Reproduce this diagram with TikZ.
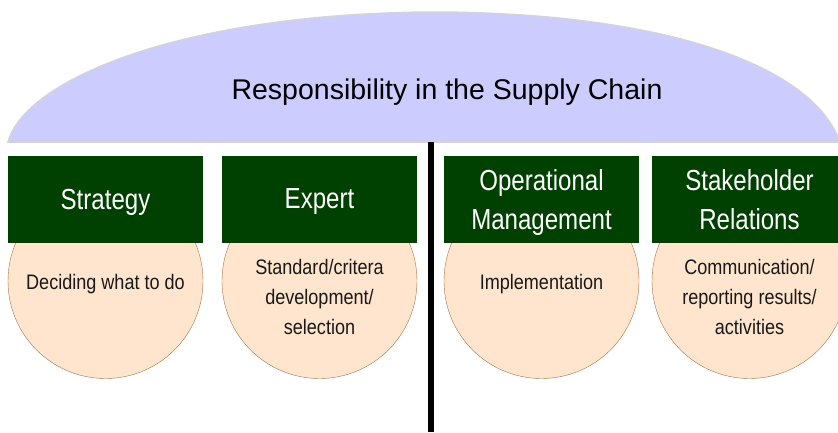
\documentclass[tikz,border=0pt]{standalone}
\usepackage{fontspec}
\setmainfont{Liberation Sans}
\newfontfamily\boxfont[FakeStretch=0.83]{Liberation Sans}
\newfontfamily\discfont[FakeStretch=0.86]{Liberation Sans}
\usetikzlibrary{positioning}
\definecolor{domeblue}{RGB}{204,204,255}
\definecolor{domeline}{RGB}{212,212,212}
\definecolor{boxgreen}{RGB}{0,64,0}
\definecolor{discfill}{RGB}{255,229,206}
\definecolor{discline}{RGB}{165,115,65}
\tikzset{
	%Define style for the green headers
	header/.style={
		rectangle,
		fill=boxgreen,
		text=white,
		minimum width=195pt,
		minimum height=87pt,
		inner sep=0pt, outer sep=0pt,
		text depth=0pt,
		align=center,
		font=\boxfont\fontsize{29}{39}\selectfont},
	%Define style for the circles
	disc/.style={
		circle,
		fill=discfill,
		draw=discline, thin,
		minimum size=195pt,
		inner sep=0pt, outer sep=0pt},
	% Define style for circle texts
	disctext/.style={
		align=center,
		text=black!90,
		font=\discfont\fontsize{21}{30}\selectfont}
}
\begin{document}
\begin{tikzpicture}[x=1pt, y=1pt]
	\useasboundingbox (0,0) rectangle (838,-432);

	\draw[fill=domeblue, draw=domeline, line width=1.5pt] (8,-142) .. controls (25,-80) and (180,-14) .. (430,-12)
		.. controls (650,-12) and (810,-60) .. (840,-142) -- cycle;
	\node[font=\fontsize{28.5}{34}\selectfont] (title) at (447,-92) {Responsibility in the Supply Chain};

	\node[disc] (strategy-c) at (105.5,-281) {};
	\node[disc, right = 19pt of strategy-c] (expert-c) {};
	\node[disc, right = 27pt of expert-c] (opman-c) {};
	\node[disc, right = 13pt of opman-c] (stake-c) {};

	\node[header, above = -59pt of strategy-c] (strategy) {Strategy};
	\node[header, above = -59pt of expert-c] (expert) {Expert};
	\node[header, above = -59pt of opman-c] (opman) {Operational\\Management};
	\node[header, above = -59pt of stake-c] (stake) {Stakeholder\\Relations};

	\node[disctext] at ([yshift=-3.5pt] strategy-c) (strategy-t) {Deciding what to do};
	\node[disctext] at ([yshift=-16pt] expert-c) (expert-t) {Standard/critera\\development/\\selection};
	\node[disctext] at ([yshift=-3.5pt] opman-c) (opman-t) {Implementation};
	\node[disctext] at ([yshift=-16pt] stake-c) (stake-t) {Communication/\\reporting results/\\activities};

	\coordinate (split-top) at (430.5,-142);
	\coordinate (split-bottom) at (430.5,-432);
	\draw[line width=6pt] (split-top) -- (split-bottom);

\end{tikzpicture}
\end{document}
